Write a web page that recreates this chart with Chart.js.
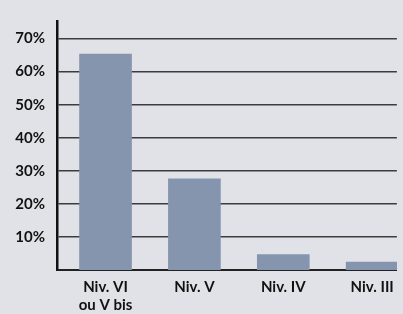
<!DOCTYPE html>
<html>
<head>
<meta charset="utf-8">
<script src="https://cdn.jsdelivr.net/npm/chart.js@4"></script>
<style>
  html, body { margin: 0; padding: 0; background: #e1e2e7; overflow: hidden; }
  #wrap { width: 403px; height: 314px; }
</style>
</head>
<body>
<div id="wrap"><canvas id="myChart" width="403" height="314"></canvas></div>
<script>
let categories = [["Niv. VI", "ou V bis"], "Niv. V", "Niv. IV", "Niv. III"];
let values = [65.3, 27.6, 4.7, 2.4];
let yTicks = [10, 20, 30, 40, 50, 60, 70];

let fontFamily = "Lato, 'Open Sans', sans-serif";

let ctx = document.getElementById('myChart').getContext('2d');
let myChart = new Chart(ctx, {
    type: 'bar',
    data: {
        datasets: [{
            data: values.map((v, i) => ({ x: i, y: v })),
            backgroundColor: '#8595ae',
            borderWidth: 0,
            barThickness: 52
        }]
    },
    options: {
        responsive: false,
        animation: false,
        layout: { padding: { top: 14, right: 3, left: 0, bottom: 0 } },
        plugins: {
            legend: { display: false },
            tooltip: { enabled: false }
        },
        scales: {
            x: {
                type: 'linear',
                offset: false,
                min: -0.546,
                max: 3.278,
                grid: { display: false, drawTicks: false },
                border: { display: true, color: '#222', width: 2 },
                afterBuildTicks: (s) => { s.ticks = categories.map((c, i) => ({ value: i })); },
                afterFit: (s) => { s.height = 44; },
                ticks: {
                    padding: 9,
                    color: '#111',
                    font: { family: fontFamily, size: 15, weight: 'bold', lineHeight: 1.15 },
                    callback: (v) => categories[v]
                }
            },
            y: {
                min: 0,
                max: 75.3,
                grid: { color: '#3c3c3c', lineWidth: 1.5, drawTicks: false },
                border: { display: true, color: '#111', width: 2.5 },
                afterBuildTicks: (s) => { s.ticks = yTicks.map(v => ({ value: v })); },
                afterFit: (s) => { s.width = 57; },
                ticks: {
                    padding: 12,
                    color: '#111',
                    font: { family: fontFamily, size: 15, weight: 'bold' },
                    callback: (v) => v + '%'
                }
            }
        }
    }
});
</script>
</body>
</html>
